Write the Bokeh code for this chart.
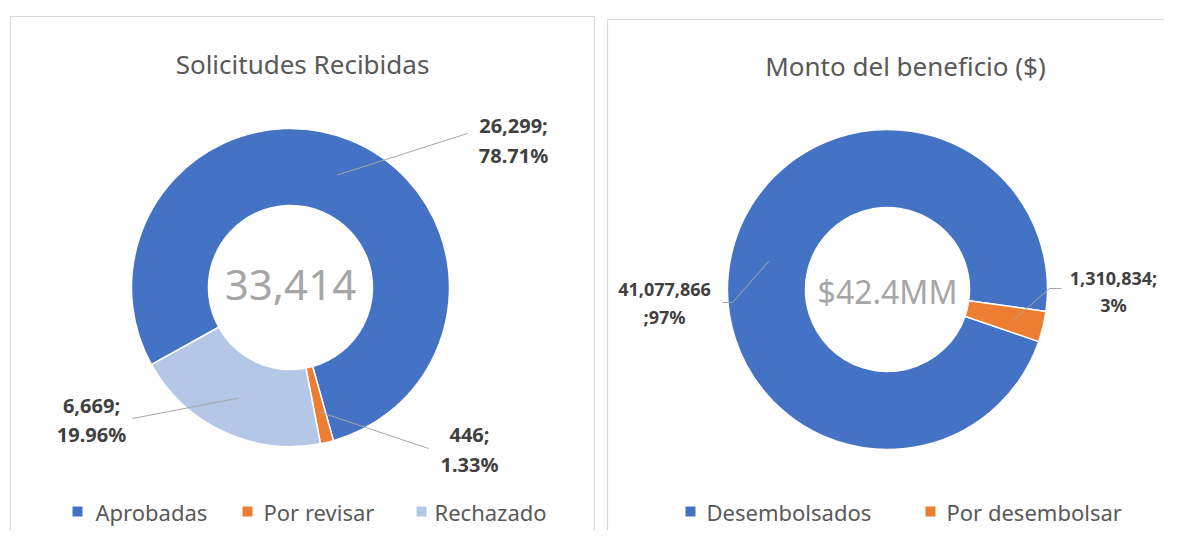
import math
from bokeh.plotting import figure
from bokeh.models import Range1d, ColumnDataSource
from bokeh.embed import file_html
from bokeh.resources import INLINE
from bokeh.core.properties import value

# ---------------- data ----------------
sol_title = "Solicitudes Recibidas"
sol_categories = ["Aprobadas", "Por revisar", "Rechazado"]
sol_values = [26299, 446, 6669]
sol_percents = ["78.71%", "1.33%", "19.96%"]
sol_total_label = "33,414"
sol_colors = ["#4472C4", "#ED7D31", "#B4C7E7"]

mon_title = "Monto del beneficio ($)"
mon_categories = ["Desembolsados", "Por desembolsar"]
mon_values = [41077866, 1310834]
mon_percents = ["97%", "3%"]
mon_total_label = "$42.4MM"
mon_colors = ["#4472C4", "#ED7D31"]

# ---------------- layout helpers ----------------
W, H = 1164, 530
FONT = value("Noto Sans")


def fx(x):
    return x


def fy(y):
    return H - y


p = figure(width=W, height=H, x_range=Range1d(0, W), y_range=Range1d(0, H),
           x_axis_type=None, y_axis_type=None, toolbar_location=None,
           output_backend="svg", min_border=0, outline_line_color=None,
           background_fill_color="white", border_fill_color="white")

# panel frames
p.quad(left=[fx(10), fx(607)], right=[fx(594), fx(1200)],
       top=[fy(16), fy(19)], bottom=[-40, -40],
       fill_color=None, line_color="#D9D9D9", line_width=1.2)


def donut(cx, cy, r_in, r_out, values, colors, first_deg):
    total = float(sum(values))
    starts, ends, mids = [], [], []
    a = first_deg
    for v in values:
        b = a + v / total * 360.0
        starts.append(math.radians(90 - b))
        ends.append(math.radians(90 - a))
        mids.append((a + b) / 2.0)
        a = b
    src = ColumnDataSource(dict(start=starts, end=ends, color=colors))
    p.annular_wedge(x=cx, y=cy, inner_radius=r_in, outer_radius=r_out,
                    start_angle="start", end_angle="end",
                    fill_color="color", line_color="white", line_width=1.5,
                    source=src)
    return mids


def leader(cx, cy, r, mid_deg, pts):
    sx = cx + r * math.sin(math.radians(mid_deg))
    sy = cy + r * math.cos(math.radians(mid_deg))
    xs = [sx] + [fx(q[0]) for q in pts]
    ys = [sy] + [fy(q[1]) for q in pts]
    p.line(xs, ys, line_color="#A6A6A6", line_width=1)


def label(lines, x, ys, size):
    p.text(x=[fx(x)] * len(lines), y=[fy(y) for y in ys], text=lines,
           text_font=FONT, text_font_size=size, text_font_style="bold",
           text_color="#404040", text_align="center", text_baseline="middle")


# ---------------- left donut ----------------
lcx, lcy = fx(290), fy(287)
mids = donut(lcx, lcy, 82, 159, sol_values, sol_colors, 241)
sol_txt = [[f"{v:,};", pc] for v, pc in zip(sol_values, sol_percents)]
# Aprobadas
leader(lcx, lcy, 122, mids[0], [(467, 133)])
label(sol_txt[0], 513, [125, 155], "20px")
# Por revisar
leader(lcx, lcy, 128, mids[1], [(428, 448)])
label(sol_txt[1], 469, [434, 464], "20px")
# Rechazado
leader(lcx, lcy, 122, mids[2], [(132, 418)])
label(sol_txt[2], 91, [405, 434], "20px")

p.text(x=[lcx], y=[fy(284)], text=[sol_total_label], text_font=FONT,
       text_font_size="42px", text_color="#A6A6A6", text_align="center",
       text_baseline="middle")
p.text(x=[fx(302)], y=[fy(63)], text=[sol_title], text_font=FONT,
       text_font_size="26px", text_color="#595959", text_align="center",
       text_baseline="middle")

# ---------------- right donut ----------------
rcx, rcy = fx(887), fy(289)
mids2 = donut(rcx, rcy, 82, 160, mon_values, mon_colors, 109)
mon_txt = [[f"{mon_values[0]:,}", ";" + mon_percents[0]],
           [f"{mon_values[1]:,};", mon_percents[1]]]
leader(rcx, rcy, 122, mids2[0], [(732, 302), (722, 302)])
label(mon_txt[0], 664, [289, 316], "18px")
leader(rcx, rcy, 130, mids2[1], [(1049, 288), (1061, 288)])
label(mon_txt[1], 1113, [277, 304], "18px")

p.text(x=[rcx], y=[fy(291)], text=[mon_total_label], text_font=FONT,
       text_font_size="32px", text_color="#A6A6A6", text_align="center",
       text_baseline="middle")
p.text(x=[fx(905)], y=[fy(65)], text=[mon_title], text_font=FONT,
       text_font_size="26px", text_color="#595959", text_align="center",
       text_baseline="middle")

# ---------------- legends ----------------
def legend(cats, colors, sq_x, txt_x, y):
    p.scatter(x=[fx(v) for v in sq_x], y=[fy(y)] * len(cats), marker="square",
              size=10, fill_color=colors, line_color=None)
    p.text(x=[fx(v) for v in txt_x], y=[fy(y)] * len(cats), text=cats,
           text_font=FONT, text_font_size="22px", text_color="#595959",
           text_align="left", text_baseline="middle")


legend(sol_categories, sol_colors, [77, 247, 421], [95, 263, 434], 511)
legend(mon_categories, mon_colors, [690, 930], [706, 946], 511)

open("out.html", "w").write(file_html(p, INLINE))
